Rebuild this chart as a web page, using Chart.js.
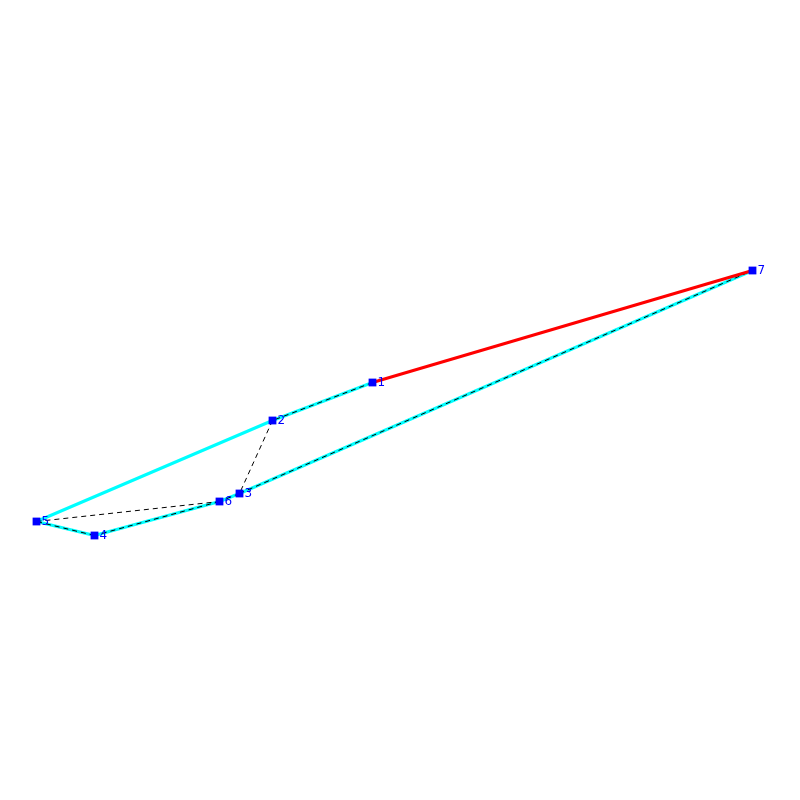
<!DOCTYPE html>
<html>
<head>
<meta charset="utf-8">
<style>
  html, body { margin: 0; padding: 0; background: #ffffff; }
  canvas { display: block; }
</style>
<script src="https://cdn.jsdelivr.net/npm/chart.js@4"></script>
</head>
<body>
<canvas id="graph" width="800" height="800"></canvas>
<script>
// Node positions
const nodeLabels = ['1', '2', '3', '4', '5', '6', '7'];
const nodeX = [372.5, 272.5, 239.5, 94.5, 36.5, 219.5, 752.5];
const nodeY = [382.5, 420.5, 493.5, 535.5, 521.5, 501.5, 270.5];

// Edges as pairs of node indexes
const tourEdges = [[0, 1], [1, 4], [4, 3], [3, 5], [5, 2], [2, 6]];
const dashedEdges = [[0, 1], [1, 2], [2, 6], [2, 5], [5, 3], [3, 4], [4, 5]];
const redEdges = [[0, 6]];

// One line dataset per group, null points break the line between edges
const edgePoints = (edges) => {
  const points = [];
  edges.forEach(([a, b]) => {
    points.push({ x: nodeX[a], y: nodeY[a] });
    points.push({ x: nodeX[b], y: nodeY[b] });
    points.push({ x: null, y: null });
  });
  return points;
};

const edgeDataset = (edges, color, width, dash, order) => ({
  data: edgePoints(edges),
  showLine: true,
  spanGaps: false,
  borderColor: color,
  borderWidth: width,
  borderDash: dash,
  pointRadius: 0,
  pointHoverRadius: 0,
  order: order
});

// Number beside each node
const nodeLabelPlugin = {
  id: 'nodeLabels',
  afterDatasetsDraw(chart) {
    const { ctx, scales } = chart;
    ctx.save();
    ctx.fillStyle = '#0000ff';
    ctx.font = '12px "DejaVu Sans"';
    ctx.textAlign = 'left';
    ctx.textBaseline = 'middle';
    nodeLabels.forEach((label, i) => {
      ctx.fillText(label, scales.x.getPixelForValue(nodeX[i]) + 5, scales.y.getPixelForValue(nodeY[i]) + 0.5);
    });
    ctx.restore();
  }
};

new Chart(document.getElementById('graph').getContext('2d'), {
  type: 'scatter',
  data: {
    datasets: [
      {
        data: nodeX.map((x, i) => ({ x: x, y: nodeY[i] })),
        showLine: false,
        pointStyle: 'rect',
        pointRadius: 5.5,
        pointHoverRadius: 5.5,
        pointBackgroundColor: '#0000ff',
        pointBorderWidth: 0,
        order: 0
      },
      edgeDataset(redEdges, '#ff0000', 3, [], 1),
      edgeDataset(dashedEdges, '#000000', 1, [5, 4], 2),
      edgeDataset(tourEdges, '#00ffff', 3, [], 3)
    ]
  },
  options: {
    responsive: false,
    animation: false,
    devicePixelRatio: 1,
    layout: { padding: 0, autoPadding: false },
    plugins: { legend: { display: false }, tooltip: { enabled: false } },
    scales: {
      x: { type: 'linear', display: false, min: 0, max: 800 },
      y: { type: 'linear', display: false, min: 0, max: 800, reverse: true }
    }
  },
  plugins: [nodeLabelPlugin]
});
</script>
</body>
</html>
